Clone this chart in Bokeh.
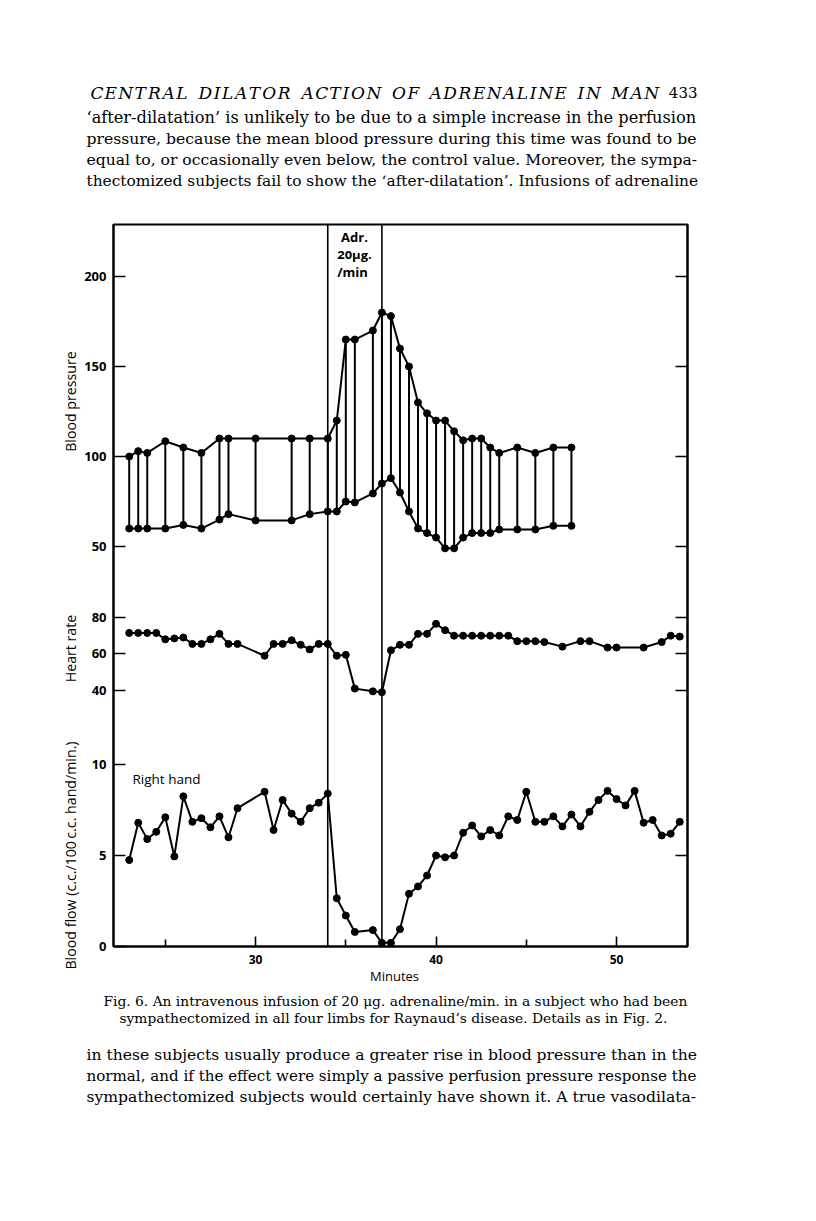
import math
from bokeh.plotting import figure
from bokeh.layouts import column
from bokeh.models import Range1d, LinearAxis, FixedTicker, Label, Span
from bokeh.embed import file_html
from bokeh.resources import INLINE

# ---------------- data ----------------
bp_time = [23, 23.5, 24, 25, 26, 27, 28, 28.5, 30, 32, 33, 34, 34.5, 35, 35.5, 36.5, 37,
           37.5, 38, 38.5, 39, 39.5, 40, 40.5, 41, 41.5, 42, 42.5, 43, 43.5, 44.5, 45.5, 46.5, 47.5]
bp_systolic = [100, 103, 102, 108.5, 105, 102, 110, 110, 110, 110, 110, 110, 120, 165, 165, 170, 180,
               178, 160, 150, 130, 124, 120, 120, 114, 109, 110, 110, 105, 102, 105, 102, 105, 105]
bp_diastolic = [60, 60, 60, 60, 62, 60, 65, 68, 64.5, 64.5, 68, 69.5, 69.5, 75, 74.5, 79.5, 85,
                88, 80, 69.5, 60, 57.5, 55, 49, 49, 55, 57.5, 57.5, 57.5, 59.5, 59.5, 59.5, 61.5, 61.5]

hr_time = [23, 23.5, 24, 24.5, 25, 25.5, 26, 26.5, 27, 27.5, 28, 28.5, 29, 30.5, 31, 31.5, 32,
           32.5, 33, 33.5, 34, 34.5, 35, 35.5, 36.5, 37, 37.5, 38, 38.5, 39, 39.5, 40, 40.5, 41,
           41.5, 42, 42.5, 43, 43.5, 44, 44.5, 45, 45.5, 46, 47, 48, 48.5, 49.5, 50, 51.5, 52.5, 53, 53.5]
hr_rate = [71.5, 71.5, 71.5, 71.5, 68, 68.5, 69, 65.5, 65.5, 68, 71, 65.5, 65.5, 59, 65.5, 65.5, 67.5,
           65, 62.5, 65.5, 65.5, 59, 59.5, 41, 39.5, 39, 62, 65, 65, 71, 71, 76.5, 73, 70,
           70, 70, 70, 70, 70, 70, 67, 67, 67, 66.5, 64, 67, 67, 63.5, 63.5, 63.5, 66.5, 70, 69.5]

flow_time = [23, 23.5, 24, 24.5, 25, 25.5, 26, 26.5, 27, 27.5, 28, 28.5, 29,
             30.5, 31, 31.5, 32, 32.5, 33, 33.5, 34, 34.5, 35, 35.5,
             36.5, 37, 37.5, 38, 38.5, 39, 39.5, 40, 40.5, 41, 41.5, 42, 42.5, 43, 43.5, 44,
             44.5, 45, 45.5, 46, 46.5, 47, 47.5, 48, 48.5, 49, 49.5, 50, 50.5, 51, 51.5, 52,
             52.5, 53, 53.5]
flow_rate = [4.75, 6.8, 5.9, 6.3, 7.1, 4.95, 8.25, 6.85, 7.05, 6.55, 7.15, 6.0, 7.6,
             8.5, 6.4, 8.05, 7.3, 6.85, 7.6, 7.9, 8.4, 2.65, 1.7, 0.8,
             0.9, 0.2, 0.2, 0.95, 2.9, 3.3, 3.9, 5.0, 4.9, 5.0, 6.25, 6.65, 6.05, 6.4, 6.1, 7.15,
             6.95, 8.5, 6.85, 6.85, 7.15, 6.6, 7.25, 6.6, 7.4, 8.05, 8.55, 8.1, 7.75, 8.55, 6.8, 6.95,
             6.1, 6.2, 6.85]

infusion_start = 34
infusion_end = 37

bp_ticks = [50, 100, 150, 200]
hr_ticks = [40, 60, 80]
flow_ticks = [0, 5, 10]
flow_ticks_right = [5]
x_major = [30, 40, 50]
x_minor = [25, 35, 45]

panel_titles = ["Blood pressure", "Heart rate", "Blood flow (c.c./100\u2009c.c. hand/min.)"]
x_title = "Minutes"

header_words = ["CENTRAL", "DILATOR", "ACTION", "OF", "ADRENALINE", "IN", "MAN"]
page_number = "433"
body_top = [
    "\u2018after-dilatation\u2019 is unlikely to be due to a simple increase in the perfusion",
    "pressure, because the mean blood pressure during this time was found to be",
    "equal to, or occasionally even below, the control value.  Moreover, the sympa-",
    "thectomized subjects fail to show the \u2018after-dilatation\u2019.  Infusions of adrenaline",
]
caption = [
    "Fig. 6.  An intravenous infusion of 20 \u03bcg. adrenaline/min. in a subject who had been",
    "sympathectomized in all four limbs for Raynaud\u2019s disease.  Details as in Fig. 2.",
]
body_bottom = [
    "in these subjects usually produce a greater rise in blood pressure than in the",
    "normal, and if the effect were simply a passive perfusion pressure response the",
    "sympathectomized subjects would certainly have shown it.  A true vasodilata-",
]

# ---------------- layout (page pixel geometry) ----------------
W = 800
TOP_H, MAIN_TOP, MAIN_BOT, PAGE_BOT = 200, 200, 990, 1213
FL, FR, FT, FB = 113, 687, 224, 946   # chart frame edges on the page

TICK_FONT = "Open Sans"
LAB_FONT = "Open Sans"
SERIF = "DejaVu Serif"
# font sizes that make each printed line fill the justified measure
body_top_sizes = [16.2, 15.65, 15.6, 15.4]
body_bottom_sizes = [15.6, 15.1, 15.6]
caption_size = 13.8


def text_fig(y_top, y_bot):
    h = y_bot - y_top
    f = figure(frame_width=W, frame_height=h, x_range=Range1d(0, W), y_range=Range1d(y_bot, y_top),
               output_backend="svg", toolbar_location=None,
               x_axis_location=None, y_axis_location=None,
               min_border_left=0, min_border_right=0, min_border_top=0, min_border_bottom=0)
    try:
        f.frame_align = False
    except Exception:
        pass
    f.outline_line_color = None
    f.xgrid.grid_line_color = None
    f.ygrid.grid_line_color = None
    f.background_fill_color = "white"
    f.border_fill_color = "white"
    return f


def put(f, px, py, s, size, font=SERIF, style="normal", align="left"):
    f.add_layout(Label(x=px, y=py, text=s, text_font=font, text_font_size=f"{size}px",
                       text_font_style=style, text_align=align, text_baseline="middle",
                       text_color="black"))


# ---------- top text block ----------
ptop = text_fig(0, TOP_H)
cap_w = {"A": 0.684, "C": 0.698, "D": 0.77, "E": 0.683, "F": 0.632, "I": 0.372, "L": 0.637,
         "M": 0.995, "N": 0.837, "O": 0.787, "R": 0.733, "T": 0.667}
hs = 17
x0, x_end = 90, 660
natural = sum(cap_w.get(c, 0.7) * hs for w in header_words for c in w)
n_letters = sum(len(w) for w in header_words)
gap_word = 0.35 * hs
extra = (x_end - x0 - natural - gap_word * (len(header_words) - 1)) / (n_letters + 1.5 * (len(header_words) - 1))
cx = x0
for w in header_words:
    for c in w:
        put(ptop, cx, 92, c, hs, style="italic")
        cx += cap_w.get(c, 0.7) * hs + extra
    cx += gap_word + 1.5 * extra
put(ptop, 697, 92, page_number, 15, align="right")
for i, s in enumerate(body_top):
    put(ptop, 86, 117 + i * 21.3, s, body_top_sizes[i])

# ---------- main chart ----------
x_range = Range1d(22.13, 53.93)
bp_range = Range1d(-172.2, 228.9)
hr_range = Range1d(-100.3, 295.3)
flow_range = Range1d(0.0, 39.67)

p = figure(width=W, height=MAIN_BOT - MAIN_TOP, x_range=x_range, y_range=bp_range,
           output_backend="svg", toolbar_location=None,
           x_axis_location=None, y_axis_location=None,
           min_border_left=FL, min_border_right=W - FR,
           min_border_top=FT - MAIN_TOP, min_border_bottom=MAIN_BOT - FB)
p.extra_y_ranges = {"hr": hr_range, "flow": flow_range}
p.xgrid.grid_line_color = None
p.ygrid.grid_line_color = None
p.outline_line_color = "black"
p.outline_line_width = 2
p.background_fill_color = "white"
p.border_fill_color = "white"
try:
    p.frame_align = False
except Exception:
    pass


def map_val(v, src, dst):
    f = (v - src.start) / (src.end - src.start)
    return round(dst.start + f * (dst.end - dst.start), 4)


def py2y(py):
    return round(bp_range.end - (py - FT) * (bp_range.end - bp_range.start) / (FB - FT), 4)


def px2x(px):
    return round(x_range.start + (px - FL) * (x_range.end - x_range.start) / (FR - FL), 4)


left_ticks, left_labels = [], {}
for v in bp_ticks:
    t = float(v); left_ticks.append(t); left_labels[t] = str(v)
for v in hr_ticks:
    t = map_val(v, hr_range, bp_range); left_ticks.append(t); left_labels[t] = str(v)
for v in flow_ticks:
    t = map_val(v, flow_range, bp_range); left_ticks.append(t); left_labels[t] = str(v)

right_ticks = [float(v) for v in bp_ticks] + [map_val(v, hr_range, bp_range) for v in hr_ticks] + \
              [map_val(v, flow_range, bp_range) for v in flow_ticks_right]

left = LinearAxis(ticker=FixedTicker(ticks=left_ticks), major_label_overrides=left_labels)
right = LinearAxis(ticker=FixedTicker(ticks=right_ticks),
                   major_label_overrides={t: "" for t in right_ticks})
below = LinearAxis(ticker=FixedTicker(ticks=x_major, minor_ticks=x_minor))

for ax in (left, right, below):
    ax.axis_line_width = 2
    ax.axis_line_color = "black"
    ax.major_tick_line_width = 1.6
    ax.major_tick_line_color = "black"
    ax.major_tick_out = 0
    ax.major_tick_in = 12
    ax.minor_tick_out = 0
    ax.minor_tick_in = 0
    ax.major_label_text_font = TICK_FONT
    ax.major_label_text_font_style = "bold"
    ax.major_label_text_font_size = "13px"
    ax.major_label_text_color = "black"
below.major_tick_in = 10
below.minor_tick_in = 7
below.minor_tick_line_width = 1.6
below.minor_tick_line_color = "black"
below.major_label_standoff = 8
below.major_label_text_font_size = "12px"
left.major_label_standoff = 7

# outer axes that only carry the panel titles
title_pos = [py2y(401), py2y(648), py2y(855)]
left_titles = LinearAxis(ticker=FixedTicker(ticks=title_pos),
                         major_label_overrides=dict(zip(title_pos, panel_titles)),
                         major_label_orientation="vertical")
minutes_pos = [px2x(394)]
below_title = LinearAxis(ticker=FixedTicker(ticks=minutes_pos),
                         major_label_overrides={minutes_pos[0]: x_title})
for ax in (left_titles, below_title):
    ax.axis_line_color = None
    ax.major_tick_line_color = None
    ax.minor_tick_line_color = None
    ax.major_tick_in = 0
    ax.major_tick_out = 0
    ax.minor_tick_in = 0
    ax.minor_tick_out = 0
    ax.major_label_text_font = LAB_FONT
    ax.major_label_text_font_size = "14.2px"
    ax.major_label_text_color = "black"
    ax.major_label_standoff = 1
below_title.major_label_standoff = 0
below_title.major_label_text_font_size = "13px"

p.add_layout(left, "left")
p.add_layout(left_titles, "left")
p.add_layout(right, "right")
p.add_layout(below, "below")
p.add_layout(below_title, "below")

# infusion markers
for t in (infusion_start, infusion_end):
    p.add_layout(Span(location=t, dimension="height", line_color="black", line_width=1.6))

# blood pressure
p.segment(x0=bp_time, y0=bp_diastolic, x1=bp_time, y1=bp_systolic, line_color="black", line_width=2)
p.line(bp_time, bp_systolic, line_color="black", line_width=2)
p.line(bp_time, bp_diastolic, line_color="black", line_width=2)
p.scatter(bp_time, bp_systolic, marker="circle", size=7, color="black")
p.scatter(bp_time, bp_diastolic, marker="circle", size=7, color="black")

# heart rate
p.line(hr_time, hr_rate, line_color="black", line_width=2, y_range_name="hr")
p.scatter(hr_time, hr_rate, marker="circle", size=7, color="black", y_range_name="hr")

# blood flow
p.line(flow_time, flow_rate, line_color="black", line_width=2, y_range_name="flow")
p.scatter(flow_time, flow_rate, marker="circle", size=7, color="black", y_range_name="flow")

# in-frame annotations
for (px, py, s) in [(354, 237, "Adr."), (354, 254, "20\u03bcg."), (352, 271, "/min")]:
    p.add_layout(Label(x=px2x(px), y=py2y(py), text=s, text_font=LAB_FONT, text_font_size="13px",
                       text_font_style="bold", text_align="center", text_baseline="middle",
                       text_color="black"))
p.add_layout(Label(x=px2x(132), y=py2y(778), text="Right hand", text_font=LAB_FONT,
                   text_font_size="13.5px", text_align="left", text_baseline="middle",
                   text_color="black"))

# ---------- bottom text block ----------
pbot = text_fig(MAIN_BOT, PAGE_BOT)
for i, s in enumerate(caption):
    put(pbot, 103 if i == 0 else 119, 1000 + i * 17, s, caption_size)
for i, s in enumerate(body_bottom):
    put(pbot, 86, 1054 + i * 21.3, s, body_bottom_sizes[i])

layout = column(ptop, p, pbot, spacing=0)
open("out.html", "w").write(file_html(layout, INLINE))
